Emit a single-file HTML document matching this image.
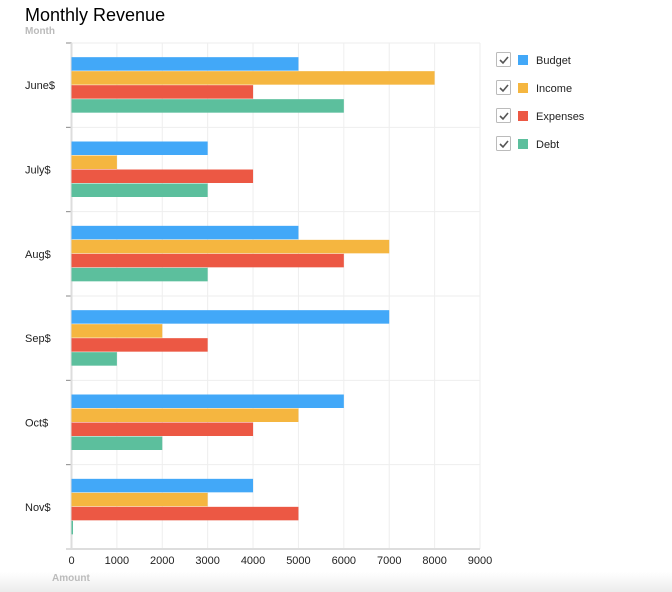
<!DOCTYPE html>
<html><head><meta charset="utf-8">
<style>
body{margin:0;background:#fff;font-family:"Liberation Sans",sans-serif;}
#wrap{position:relative;width:672px;height:592px;overflow:hidden;background:#fff;}
#fade{position:absolute;left:0;top:572px;width:672px;height:20px;background:linear-gradient(#fff,#ececec);}
</style></head>
<body>
<div id="wrap">
<div id="fade"></div>
<svg id="svg" width="672" height="592" style="position:absolute;left:0;top:0"></svg>
</div>
<script>
const categories=["June$","July$","Aug$","Sep$","Oct$","Nov$"];
const seriesNames=["Budget","Income","Expenses","Debt"];
const seriesColors=["#42a8f8","#f5b640","#ec5844","#5cbf9d"];
const budget=[5000,3000,5000,7000,6000,4000];
const income=[8000,1000,7000,2000,5000,3000];
const expenses=[4000,4000,6000,3000,4000,5000];
const debt=[6000,3000,3000,1000,2000,0];
const xTicks=[0,1000,2000,3000,4000,5000,6000,7000,8000,9000];
const series=[budget,income,expenses,debt];

const NS="http://www.w3.org/2000/svg";
const svg=document.getElementById('svg');
const X0=71.5,X1=480,XMAX=9000,Y0=43,Y1=549;
const band=(Y1-Y0)/categories.length;
const xs=v=>X0+(X1-X0)*v/XMAX;
function mk(tag,attrs,parent){const e=document.createElementNS(NS,tag);for(const k in attrs)e.setAttribute(k,attrs[k]);(parent||svg).appendChild(e);return e;}

let t=mk('text',{x:25,y:21,'font-size':18,fill:'#000'});t.textContent='Monthly Revenue';


t=mk('text',{x:25,y:34,'font-size':10,'font-weight':'bold',fill:'#bbb'});t.textContent='Month';


t=mk('text',{x:52,y:581,'font-size':10,'font-weight':'bold',fill:'#bbb'});t.textContent='Amount';



// grid
xTicks.forEach(v=>{
  if(v>0){const l=mk('line',{x1:xs(v),x2:xs(v),y1:Y0,y2:Y1,stroke:'#eee'});
  
  }
  const tx=mk('text',{x:xs(v),y:564,'font-size':11,fill:'#222','text-anchor':'middle'});tx.textContent=v;
  
  
});
for(let i=0;i<=categories.length;i++){
  const y=Y0+i*band;
  if(i<categories.length){const l=mk('line',{x1:X0,x2:X1,y1:y,y2:y,stroke:'#eee'});
  
  }
  const tk=mk('line',{x1:66,x2:X0,y1:y,y2:y,stroke:'#888'});
  
  
}
let ax=mk('line',{x1:X0,x2:X0,y1:Y0,y2:Y1,stroke:'#ddd','stroke-width':2});


ax=mk('line',{x1:66,x2:X1,y1:Y1,y2:Y1,stroke:'#ddd','stroke-width':2});



categories.forEach((c,i)=>{
  const yb=Y0+i*band;
  const lab=mk('text',{x:25,y:yb+band/2+4,'font-size':11,fill:'#222'});lab.textContent=c;
  
  
  const bh=14,pad=(band-bh*4)/2;
  series.forEach((s,j)=>{
    const w=Math.max(xs(s[i])-X0,s[i]===0?1.5:0);
    const r=mk('rect',{x:X0,y:yb+pad+j*bh,width:w,height:bh-0.5,fill:seriesColors[j]});
    
    
  });
});

// legend
seriesNames.forEach((n,j)=>{
  const y=60+j*28;
  const g=mk('g',{});
  
  
  mk('rect',{x:496.5,y:y-7.5,width:14,height:14,fill:'#fff',stroke:'#bbb','stroke-width':1,rx:1},g);
  mk('path',{d:`M500 ${y} l3 3 l5 -6`,fill:'none',stroke:'#555','stroke-width':1.6},g);
  mk('rect',{x:518,y:y-5,width:10,height:10,fill:seriesColors[j]},g);
  const tx=mk('text',{x:536,y:y+4,'font-size':11,fill:'#222'},g);tx.textContent=n;
});
</script>
</body></html>
